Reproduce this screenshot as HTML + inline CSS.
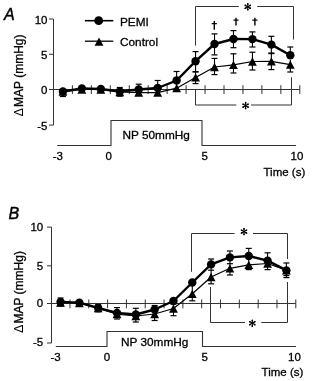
<!DOCTYPE html>
<html><head><meta charset="utf-8"><style>
html,body{margin:0;padding:0;background:#fff;width:310px;height:381px;overflow:hidden}
svg{display:block;filter:grayscale(100%)}
text{font-family:"Liberation Sans",sans-serif;fill:#000;stroke:#000;stroke-width:0.3px}
</style></head><body>
<svg width="310" height="381" viewBox="0 0 310 381">
<line x1="53.5" y1="19.00" x2="53.5" y2="125.10" stroke="#333" stroke-width="1"/>
<line x1="49.0" y1="19.00" x2="53.5" y2="19.00" stroke="#333" stroke-width="1"/>
<line x1="49.0" y1="54.30" x2="53.5" y2="54.30" stroke="#333" stroke-width="1"/>
<line x1="49.0" y1="89.50" x2="53.5" y2="89.50" stroke="#333" stroke-width="1"/>
<line x1="49.0" y1="125.10" x2="53.5" y2="125.10" stroke="#333" stroke-width="1"/>
<line x1="53.5" y1="89.5" x2="299.80" y2="89.5" stroke="#333" stroke-width="1"/>
<line x1="72.40" y1="85.20" x2="72.40" y2="94.00" stroke="#333" stroke-width="1"/>
<line x1="91.35" y1="85.20" x2="91.35" y2="94.00" stroke="#333" stroke-width="1"/>
<line x1="110.30" y1="85.20" x2="110.30" y2="94.00" stroke="#333" stroke-width="1"/>
<line x1="129.25" y1="85.20" x2="129.25" y2="94.00" stroke="#333" stroke-width="1"/>
<line x1="148.20" y1="85.20" x2="148.20" y2="94.00" stroke="#333" stroke-width="1"/>
<line x1="167.15" y1="85.20" x2="167.15" y2="94.00" stroke="#333" stroke-width="1"/>
<line x1="186.10" y1="85.20" x2="186.10" y2="94.00" stroke="#333" stroke-width="1"/>
<line x1="205.05" y1="85.20" x2="205.05" y2="94.00" stroke="#333" stroke-width="1"/>
<line x1="224.00" y1="85.20" x2="224.00" y2="94.00" stroke="#333" stroke-width="1"/>
<line x1="242.95" y1="85.20" x2="242.95" y2="94.00" stroke="#333" stroke-width="1"/>
<line x1="261.90" y1="85.20" x2="261.90" y2="94.00" stroke="#333" stroke-width="1"/>
<line x1="280.85" y1="85.20" x2="280.85" y2="94.00" stroke="#333" stroke-width="1"/>
<line x1="299.80" y1="85.20" x2="299.80" y2="94.00" stroke="#333" stroke-width="1"/>
<text x="47.5" y="23.95" font-size="11.5" text-anchor="end" >10</text>
<text x="47.5" y="58.90" font-size="11.5" text-anchor="end" >5</text>
<text x="47.5" y="94.30" font-size="11.5" text-anchor="end" >0</text>
<text x="47.5" y="129.70" font-size="11.5" text-anchor="end" >-5</text>
<polyline points="57.2,145.5 111,145.5 111,120.5 202,120.5 202,145.5 296,145.5" fill="none" stroke="#333" stroke-width="1.1"/>
<text x="122.5" y="138.6" font-size="11.8" text-anchor="start" >NP 50mmHg</text>
<text x="57.8" y="159.5" font-size="11.5" text-anchor="middle" >-3</text>
<text x="108.8" y="159.5" font-size="11.5" text-anchor="middle" >0</text>
<text x="204.6" y="159.5" font-size="11.5" text-anchor="middle" >5</text>
<text x="297" y="159.5" font-size="11.5" text-anchor="middle" >10</text>
<text x="263.5" y="176" font-size="11.5" text-anchor="start" >Time (s)</text>
<text transform="translate(23,75.4) rotate(-90)" font-size="12" text-anchor="middle"><tspan style="stroke:none">&#916;</tspan><tspan dx="-1.4"> MAP (mmHg)</tspan></text>
<text x="4" y="20.3" font-size="16" font-style="italic" style="stroke-width:0.45px">A</text>
<line x1="62.92" y1="91.50" x2="62.92" y2="96.50" stroke="#000" stroke-width="1.1"/><line x1="59.92" y1="96.50" x2="65.92" y2="96.50" stroke="#000" stroke-width="1.2"/>
<line x1="119.77" y1="87.50" x2="119.77" y2="96.20" stroke="#000" stroke-width="1.1"/><line x1="116.77" y1="87.50" x2="122.77" y2="87.50" stroke="#000" stroke-width="1.2"/><line x1="116.77" y1="96.20" x2="122.77" y2="96.20" stroke="#000" stroke-width="1.2"/>
<line x1="138.72" y1="84.20" x2="138.72" y2="95.00" stroke="#000" stroke-width="1.1"/><line x1="135.72" y1="84.20" x2="141.72" y2="84.20" stroke="#000" stroke-width="1.2"/><line x1="135.72" y1="95.00" x2="141.72" y2="95.00" stroke="#000" stroke-width="1.2"/>
<line x1="157.68" y1="80.50" x2="157.68" y2="95.00" stroke="#000" stroke-width="1.1"/><line x1="154.68" y1="80.50" x2="160.68" y2="80.50" stroke="#000" stroke-width="1.2"/><line x1="154.68" y1="95.00" x2="160.68" y2="95.00" stroke="#000" stroke-width="1.2"/>
<line x1="176.62" y1="71.50" x2="176.62" y2="90.00" stroke="#000" stroke-width="1.1"/><line x1="173.62" y1="71.50" x2="179.62" y2="71.50" stroke="#000" stroke-width="1.2"/><line x1="173.62" y1="90.00" x2="179.62" y2="90.00" stroke="#000" stroke-width="1.2"/>
<line x1="195.57" y1="51.60" x2="195.57" y2="71.60" stroke="#000" stroke-width="1.1"/><line x1="192.57" y1="51.60" x2="198.57" y2="51.60" stroke="#000" stroke-width="1.2"/><line x1="192.57" y1="71.60" x2="198.57" y2="71.60" stroke="#000" stroke-width="1.2"/>
<line x1="195.57" y1="72.00" x2="195.57" y2="83.60" stroke="#000" stroke-width="1.1"/><line x1="192.57" y1="72.00" x2="198.57" y2="72.00" stroke="#000" stroke-width="1.2"/><line x1="192.57" y1="83.60" x2="198.57" y2="83.60" stroke="#000" stroke-width="1.2"/>
<line x1="214.52" y1="33.90" x2="214.52" y2="54.90" stroke="#000" stroke-width="1.1"/><line x1="211.52" y1="33.90" x2="217.52" y2="33.90" stroke="#000" stroke-width="1.2"/><line x1="211.52" y1="54.90" x2="217.52" y2="54.90" stroke="#000" stroke-width="1.2"/>
<line x1="214.52" y1="58.40" x2="214.52" y2="74.60" stroke="#000" stroke-width="1.1"/><line x1="211.52" y1="58.40" x2="217.52" y2="58.40" stroke="#000" stroke-width="1.2"/><line x1="211.52" y1="74.60" x2="217.52" y2="74.60" stroke="#000" stroke-width="1.2"/>
<line x1="233.47" y1="30.60" x2="233.47" y2="47.70" stroke="#000" stroke-width="1.1"/><line x1="230.47" y1="30.60" x2="236.47" y2="30.60" stroke="#000" stroke-width="1.2"/><line x1="230.47" y1="47.70" x2="236.47" y2="47.70" stroke="#000" stroke-width="1.2"/>
<line x1="233.47" y1="53.80" x2="233.47" y2="73.00" stroke="#000" stroke-width="1.1"/><line x1="230.47" y1="53.80" x2="236.47" y2="53.80" stroke="#000" stroke-width="1.2"/><line x1="230.47" y1="73.00" x2="236.47" y2="73.00" stroke="#000" stroke-width="1.2"/>
<line x1="252.43" y1="31.90" x2="252.43" y2="47.00" stroke="#000" stroke-width="1.1"/><line x1="249.43" y1="31.90" x2="255.43" y2="31.90" stroke="#000" stroke-width="1.2"/><line x1="249.43" y1="47.00" x2="255.43" y2="47.00" stroke="#000" stroke-width="1.2"/>
<line x1="252.43" y1="52.20" x2="252.43" y2="70.00" stroke="#000" stroke-width="1.1"/><line x1="249.43" y1="52.20" x2="255.43" y2="52.20" stroke="#000" stroke-width="1.2"/><line x1="249.43" y1="70.00" x2="255.43" y2="70.00" stroke="#000" stroke-width="1.2"/>
<line x1="271.38" y1="36.30" x2="271.38" y2="53.00" stroke="#000" stroke-width="1.1"/><line x1="268.38" y1="36.30" x2="274.38" y2="36.30" stroke="#000" stroke-width="1.2"/><line x1="268.38" y1="53.00" x2="274.38" y2="53.00" stroke="#000" stroke-width="1.2"/>
<line x1="271.38" y1="53.60" x2="271.38" y2="69.60" stroke="#000" stroke-width="1.1"/><line x1="268.38" y1="53.60" x2="274.38" y2="53.60" stroke="#000" stroke-width="1.2"/><line x1="268.38" y1="69.60" x2="274.38" y2="69.60" stroke="#000" stroke-width="1.2"/>
<line x1="290.32" y1="47.00" x2="290.32" y2="55.00" stroke="#000" stroke-width="1.1"/><line x1="287.32" y1="47.00" x2="293.32" y2="47.00" stroke="#000" stroke-width="1.2"/>
<line x1="290.32" y1="60.00" x2="290.32" y2="72.00" stroke="#000" stroke-width="1.1"/><line x1="287.32" y1="72.00" x2="293.32" y2="72.00" stroke="#000" stroke-width="1.2"/>
<polyline points="62.92,91.50 81.88,89.50 100.83,89.50 119.77,92.00 138.72,92.70 157.68,92.70 176.62,88.20 195.57,77.40 214.52,67.00 233.47,64.80 252.43,61.50 271.38,61.30 290.32,64.60" fill="none" stroke="#000" stroke-width="1.2" stroke-linejoin="round"/>
<polyline points="62.92,91.50 81.88,88.50 100.83,89.00 119.77,91.50 138.72,89.50 157.68,88.00 176.62,80.50 195.57,61.20 214.52,44.00 233.47,39.00 252.43,39.10 271.38,44.60 290.32,55.20" fill="none" stroke="#000" stroke-width="2.4" stroke-linejoin="round"/>
<path d="M62.92 87.35 L67.33 95.65 L58.52 95.65 Z" fill="#000"/>
<path d="M81.88 85.35 L86.28 93.65 L77.47 93.65 Z" fill="#000"/>
<path d="M100.83 85.35 L105.23 93.65 L96.42 93.65 Z" fill="#000"/>
<path d="M119.77 87.85 L124.17 96.15 L115.37 96.15 Z" fill="#000"/>
<path d="M138.72 88.55 L143.12 96.85 L134.32 96.85 Z" fill="#000"/>
<path d="M157.68 88.55 L162.08 96.85 L153.28 96.85 Z" fill="#000"/>
<path d="M176.62 84.05 L181.03 92.35 L172.22 92.35 Z" fill="#000"/>
<path d="M195.57 73.25 L199.97 81.55 L191.17 81.55 Z" fill="#000"/>
<path d="M214.52 62.85 L218.92 71.15 L210.12 71.15 Z" fill="#000"/>
<path d="M233.47 60.65 L237.88 68.95 L229.07 68.95 Z" fill="#000"/>
<path d="M252.43 57.35 L256.82 65.65 L248.03 65.65 Z" fill="#000"/>
<path d="M271.38 57.15 L275.77 65.45 L266.98 65.45 Z" fill="#000"/>
<path d="M290.32 60.45 L294.72 68.75 L285.93 68.75 Z" fill="#000"/>
<circle cx="62.92" cy="91.50" r="4.2" fill="#000"/>
<circle cx="81.88" cy="88.50" r="4.2" fill="#000"/>
<circle cx="100.83" cy="89.00" r="4.2" fill="#000"/>
<circle cx="119.77" cy="91.50" r="4.2" fill="#000"/>
<circle cx="138.72" cy="89.50" r="4.2" fill="#000"/>
<circle cx="157.68" cy="88.00" r="4.2" fill="#000"/>
<circle cx="176.62" cy="80.50" r="4.2" fill="#000"/>
<circle cx="195.57" cy="61.20" r="4.2" fill="#000"/>
<circle cx="214.52" cy="44.00" r="4.2" fill="#000"/>
<circle cx="233.47" cy="39.00" r="4.2" fill="#000"/>
<circle cx="252.43" cy="39.10" r="4.2" fill="#000"/>
<circle cx="271.38" cy="44.60" r="4.2" fill="#000"/>
<circle cx="290.32" cy="55.20" r="4.2" fill="#000"/>
<polyline points="195.5,45.6 195.5,6.5 238.8,6.5" fill="none" stroke="#333" stroke-width="1"/>
<polyline points="257.2,6.5 293.5,6.5 293.5,39.5" fill="none" stroke="#333" stroke-width="1"/>
<line x1="247.80" y1="3.60" x2="247.80" y2="10.00" stroke="#000" stroke-width="1.1" stroke-linecap="round"/><line x1="245.03" y1="5.20" x2="250.57" y2="8.40" stroke="#000" stroke-width="1.1" stroke-linecap="round"/><line x1="250.57" y1="5.20" x2="245.03" y2="8.40" stroke="#000" stroke-width="1.1" stroke-linecap="round"/><circle cx="250.14" cy="8.15" r="0.85" fill="#000"/><circle cx="247.80" cy="9.50" r="0.85" fill="#000"/><circle cx="245.46" cy="8.15" r="0.85" fill="#000"/><circle cx="245.46" cy="5.45" r="0.85" fill="#000"/><circle cx="247.80" cy="4.10" r="0.85" fill="#000"/><circle cx="250.14" cy="5.45" r="0.85" fill="#000"/>
<polyline points="195.5,89.5 195.5,105 236.3,105" fill="none" stroke="#333" stroke-width="1"/>
<polyline points="251,105 291.5,105 291.5,77.3" fill="none" stroke="#333" stroke-width="1"/>
<line x1="245.60" y1="102.40" x2="245.60" y2="108.80" stroke="#000" stroke-width="1.1" stroke-linecap="round"/><line x1="242.83" y1="104.00" x2="248.37" y2="107.20" stroke="#000" stroke-width="1.1" stroke-linecap="round"/><line x1="248.37" y1="104.00" x2="242.83" y2="107.20" stroke="#000" stroke-width="1.1" stroke-linecap="round"/><circle cx="247.94" cy="106.95" r="0.85" fill="#000"/><circle cx="245.60" cy="108.30" r="0.85" fill="#000"/><circle cx="243.26" cy="106.95" r="0.85" fill="#000"/><circle cx="243.26" cy="104.25" r="0.85" fill="#000"/><circle cx="245.60" cy="102.90" r="0.85" fill="#000"/><circle cx="247.94" cy="104.25" r="0.85" fill="#000"/>
<line x1="214.30" y1="21.00" x2="214.30" y2="29.80" stroke="#000" stroke-width="1.4"/><line x1="211.70" y1="23.64" x2="216.90" y2="23.64" stroke="#000" stroke-width="1.2"/>
<line x1="236.00" y1="17.80" x2="236.00" y2="25.50" stroke="#000" stroke-width="1.4"/><line x1="233.40" y1="20.11" x2="238.60" y2="20.11" stroke="#000" stroke-width="1.2"/>
<line x1="254.90" y1="17.80" x2="254.90" y2="25.50" stroke="#000" stroke-width="1.4"/><line x1="252.30" y1="20.11" x2="257.50" y2="20.11" stroke="#000" stroke-width="1.2"/>
<line x1="84.9" y1="20.7" x2="113.3" y2="20.7" stroke="#000" stroke-width="1.6"/>
<circle cx="98.70" cy="20.70" r="4.4" fill="#000"/>
<line x1="84.9" y1="41.2" x2="113.3" y2="41.2" stroke="#000" stroke-width="1.3"/>
<path d="M99.00 37.45 L103.40 45.75 L94.60 45.75 Z" fill="#000"/>
<text x="120.0" y="25.8" font-size="11.8" text-anchor="start" >PEMI</text>
<text x="120.0" y="45.7" font-size="11.8" text-anchor="start" >Control</text>
<line x1="51.5" y1="227.10" x2="51.5" y2="343.00" stroke="#333" stroke-width="1"/>
<line x1="47.0" y1="227.10" x2="51.5" y2="227.10" stroke="#333" stroke-width="1"/>
<line x1="47.0" y1="265.80" x2="51.5" y2="265.80" stroke="#333" stroke-width="1"/>
<line x1="47.0" y1="303.50" x2="51.5" y2="303.50" stroke="#333" stroke-width="1"/>
<line x1="47.0" y1="343.00" x2="51.5" y2="343.00" stroke="#333" stroke-width="1"/>
<line x1="51.5" y1="303.5" x2="295.80" y2="303.5" stroke="#333" stroke-width="1"/>
<line x1="69.96" y1="299.50" x2="69.96" y2="308.30" stroke="#333" stroke-width="1"/>
<line x1="88.78" y1="299.50" x2="88.78" y2="308.30" stroke="#333" stroke-width="1"/>
<line x1="107.60" y1="299.50" x2="107.60" y2="308.30" stroke="#333" stroke-width="1"/>
<line x1="126.42" y1="299.50" x2="126.42" y2="308.30" stroke="#333" stroke-width="1"/>
<line x1="145.24" y1="299.50" x2="145.24" y2="308.30" stroke="#333" stroke-width="1"/>
<line x1="164.06" y1="299.50" x2="164.06" y2="308.30" stroke="#333" stroke-width="1"/>
<line x1="182.88" y1="299.50" x2="182.88" y2="308.30" stroke="#333" stroke-width="1"/>
<line x1="201.70" y1="299.50" x2="201.70" y2="308.30" stroke="#333" stroke-width="1"/>
<line x1="220.52" y1="299.50" x2="220.52" y2="308.30" stroke="#333" stroke-width="1"/>
<line x1="239.34" y1="299.50" x2="239.34" y2="308.30" stroke="#333" stroke-width="1"/>
<line x1="258.16" y1="299.50" x2="258.16" y2="308.30" stroke="#333" stroke-width="1"/>
<line x1="276.98" y1="299.50" x2="276.98" y2="308.30" stroke="#333" stroke-width="1"/>
<line x1="295.80" y1="299.50" x2="295.80" y2="308.30" stroke="#333" stroke-width="1"/>
<text x="43.2" y="230.60" font-size="11.5" text-anchor="end" >10</text>
<text x="43.2" y="270.40" font-size="11.5" text-anchor="end" >5</text>
<text x="43.2" y="306.60" font-size="11.5" text-anchor="end" >0</text>
<text x="43.2" y="346.10" font-size="11.5" text-anchor="end" >-5</text>
<polyline points="55.8,346.5 107,346.5 107,331.5 202.5,331.5 202.5,346.5 296,346.5" fill="none" stroke="#333" stroke-width="1.1"/>
<text x="121" y="345.5" font-size="11.8" text-anchor="start" >NP 30mmHg</text>
<text x="55.6" y="360.5" font-size="11.5" text-anchor="middle" >-3</text>
<text x="107" y="360.5" font-size="11.5" text-anchor="middle" >0</text>
<text x="204.6" y="360.5" font-size="11.5" text-anchor="middle" >5</text>
<text x="294.5" y="360.5" font-size="11.5" text-anchor="middle" >10</text>
<text x="261.6" y="375.6" font-size="11.5" text-anchor="start" >Time (s)</text>
<text transform="translate(23,292) rotate(-90)" font-size="12" text-anchor="middle"><tspan style="stroke:none">&#916;</tspan><tspan dx="-1.4"> MAP (mmHg)</tspan></text>
<text x="8.5" y="218.6" font-size="16" font-style="italic" style="stroke-width:0.45px">B</text>
<line x1="60.55" y1="298.00" x2="60.55" y2="306.00" stroke="#000" stroke-width="1.1"/><line x1="57.55" y1="298.00" x2="63.55" y2="298.00" stroke="#000" stroke-width="1.2"/><line x1="57.55" y1="306.00" x2="63.55" y2="306.00" stroke="#000" stroke-width="1.2"/>
<line x1="98.19" y1="304.60" x2="98.19" y2="311.80" stroke="#000" stroke-width="1.1"/><line x1="95.19" y1="304.60" x2="101.19" y2="304.60" stroke="#000" stroke-width="1.2"/><line x1="95.19" y1="311.80" x2="101.19" y2="311.80" stroke="#000" stroke-width="1.2"/>
<line x1="117.01" y1="307.60" x2="117.01" y2="319.00" stroke="#000" stroke-width="1.1"/><line x1="114.01" y1="307.60" x2="120.01" y2="307.60" stroke="#000" stroke-width="1.2"/><line x1="114.01" y1="319.00" x2="120.01" y2="319.00" stroke="#000" stroke-width="1.2"/>
<line x1="135.83" y1="308.30" x2="135.83" y2="322.00" stroke="#000" stroke-width="1.1"/><line x1="132.83" y1="308.30" x2="138.83" y2="308.30" stroke="#000" stroke-width="1.2"/><line x1="132.83" y1="322.00" x2="138.83" y2="322.00" stroke="#000" stroke-width="1.2"/>
<line x1="154.65" y1="305.50" x2="154.65" y2="320.50" stroke="#000" stroke-width="1.1"/><line x1="151.65" y1="305.50" x2="157.65" y2="305.50" stroke="#000" stroke-width="1.2"/><line x1="151.65" y1="320.50" x2="157.65" y2="320.50" stroke="#000" stroke-width="1.2"/>
<line x1="173.47" y1="304.00" x2="173.47" y2="315.70" stroke="#000" stroke-width="1.1"/><line x1="170.47" y1="304.00" x2="176.47" y2="304.00" stroke="#000" stroke-width="1.2"/><line x1="170.47" y1="315.70" x2="176.47" y2="315.70" stroke="#000" stroke-width="1.2"/>
<line x1="192.29" y1="286.00" x2="192.29" y2="300.80" stroke="#000" stroke-width="1.1"/><line x1="189.29" y1="300.80" x2="195.29" y2="300.80" stroke="#000" stroke-width="1.2"/>
<line x1="211.11" y1="259.00" x2="211.11" y2="270.20" stroke="#000" stroke-width="1.1"/><line x1="208.11" y1="259.00" x2="214.11" y2="259.00" stroke="#000" stroke-width="1.2"/><line x1="208.11" y1="270.20" x2="214.11" y2="270.20" stroke="#000" stroke-width="1.2"/>
<line x1="211.11" y1="270.20" x2="211.11" y2="283.80" stroke="#000" stroke-width="1.1"/><line x1="208.11" y1="283.80" x2="214.11" y2="283.80" stroke="#000" stroke-width="1.2"/>
<line x1="229.93" y1="251.00" x2="229.93" y2="263.70" stroke="#000" stroke-width="1.1"/><line x1="226.93" y1="251.00" x2="232.93" y2="251.00" stroke="#000" stroke-width="1.2"/><line x1="226.93" y1="263.70" x2="232.93" y2="263.70" stroke="#000" stroke-width="1.2"/>
<line x1="229.93" y1="263.70" x2="229.93" y2="275.00" stroke="#000" stroke-width="1.1"/><line x1="226.93" y1="275.00" x2="232.93" y2="275.00" stroke="#000" stroke-width="1.2"/>
<line x1="248.75" y1="248.40" x2="248.75" y2="269.60" stroke="#000" stroke-width="1.1"/><line x1="245.75" y1="248.40" x2="251.75" y2="248.40" stroke="#000" stroke-width="1.2"/><line x1="245.75" y1="269.60" x2="251.75" y2="269.60" stroke="#000" stroke-width="1.2"/>
<line x1="267.57" y1="252.80" x2="267.57" y2="269.60" stroke="#000" stroke-width="1.1"/><line x1="264.57" y1="252.80" x2="270.57" y2="252.80" stroke="#000" stroke-width="1.2"/><line x1="264.57" y1="269.60" x2="270.57" y2="269.60" stroke="#000" stroke-width="1.2"/>
<line x1="286.39" y1="263.00" x2="286.39" y2="275.60" stroke="#000" stroke-width="1.1"/><line x1="283.39" y1="263.00" x2="289.39" y2="263.00" stroke="#000" stroke-width="1.2"/><line x1="283.39" y1="275.60" x2="289.39" y2="275.60" stroke="#000" stroke-width="1.2"/>
<line x1="286.39" y1="270.00" x2="286.39" y2="277.60" stroke="#000" stroke-width="1.1"/><line x1="283.39" y1="277.60" x2="289.39" y2="277.60" stroke="#000" stroke-width="1.2"/>
<polyline points="60.55,302.50 79.37,303.00 98.19,308.00 117.01,314.20 135.83,316.00 154.65,314.00 173.47,308.50 192.29,293.80 211.11,277.00 229.93,268.30 248.75,264.80 267.57,263.50 286.39,270.30" fill="none" stroke="#000" stroke-width="1.2" stroke-linejoin="round"/>
<polyline points="60.55,302.00 79.37,302.60 98.19,308.00 117.01,313.00 135.83,314.50 154.65,309.50 173.47,301.00 192.29,282.50 211.11,264.40 229.93,257.40 248.75,256.00 267.57,260.60 286.39,270.40" fill="none" stroke="#000" stroke-width="2.4" stroke-linejoin="round"/>
<path d="M60.55 298.35 L64.95 306.65 L56.15 306.65 Z" fill="#000"/>
<path d="M79.37 298.85 L83.77 307.15 L74.97 307.15 Z" fill="#000"/>
<path d="M98.19 303.85 L102.59 312.15 L93.79 312.15 Z" fill="#000"/>
<path d="M117.01 310.05 L121.41 318.35 L112.61 318.35 Z" fill="#000"/>
<path d="M135.83 311.85 L140.23 320.15 L131.43 320.15 Z" fill="#000"/>
<path d="M154.65 309.85 L159.05 318.15 L150.25 318.15 Z" fill="#000"/>
<path d="M173.47 304.35 L177.87 312.65 L169.07 312.65 Z" fill="#000"/>
<path d="M192.29 289.65 L196.69 297.95 L187.89 297.95 Z" fill="#000"/>
<path d="M211.11 272.85 L215.51 281.15 L206.71 281.15 Z" fill="#000"/>
<path d="M229.93 264.15 L234.33 272.45 L225.53 272.45 Z" fill="#000"/>
<path d="M248.75 260.65 L253.15 268.95 L244.35 268.95 Z" fill="#000"/>
<path d="M267.57 259.35 L271.97 267.65 L263.17 267.65 Z" fill="#000"/>
<path d="M286.39 266.15 L290.79 274.45 L281.99 274.45 Z" fill="#000"/>
<circle cx="60.55" cy="302.00" r="4.2" fill="#000"/>
<circle cx="79.37" cy="302.60" r="4.2" fill="#000"/>
<circle cx="98.19" cy="308.00" r="4.2" fill="#000"/>
<circle cx="117.01" cy="313.00" r="4.2" fill="#000"/>
<circle cx="135.83" cy="314.50" r="4.2" fill="#000"/>
<circle cx="154.65" cy="309.50" r="4.2" fill="#000"/>
<circle cx="173.47" cy="301.00" r="4.2" fill="#000"/>
<circle cx="192.29" cy="282.50" r="4.2" fill="#000"/>
<circle cx="211.11" cy="264.40" r="4.2" fill="#000"/>
<circle cx="229.93" cy="257.40" r="4.2" fill="#000"/>
<circle cx="248.75" cy="256.00" r="4.2" fill="#000"/>
<circle cx="267.57" cy="260.60" r="4.2" fill="#000"/>
<circle cx="286.39" cy="270.40" r="4.2" fill="#000"/>
<polyline points="191.5,271.8 191.5,233.5 234.6,233.5" fill="none" stroke="#333" stroke-width="1"/>
<polyline points="253,233.5 287.5,233.5 287.5,259" fill="none" stroke="#333" stroke-width="1"/>
<line x1="244.00" y1="228.40" x2="244.00" y2="234.80" stroke="#000" stroke-width="1.1" stroke-linecap="round"/><line x1="241.23" y1="230.00" x2="246.77" y2="233.20" stroke="#000" stroke-width="1.1" stroke-linecap="round"/><line x1="246.77" y1="230.00" x2="241.23" y2="233.20" stroke="#000" stroke-width="1.1" stroke-linecap="round"/><circle cx="246.34" cy="232.95" r="0.85" fill="#000"/><circle cx="244.00" cy="234.30" r="0.85" fill="#000"/><circle cx="241.66" cy="232.95" r="0.85" fill="#000"/><circle cx="241.66" cy="230.25" r="0.85" fill="#000"/><circle cx="244.00" cy="228.90" r="0.85" fill="#000"/><circle cx="246.34" cy="230.25" r="0.85" fill="#000"/>
<polyline points="210.5,287 210.5,322.5 245,322.5" fill="none" stroke="#333" stroke-width="1"/>
<polyline points="261.3,322.5 287.5,322.5 287.5,282" fill="none" stroke="#333" stroke-width="1"/>
<line x1="252.30" y1="320.00" x2="252.30" y2="326.40" stroke="#000" stroke-width="1.1" stroke-linecap="round"/><line x1="249.53" y1="321.60" x2="255.07" y2="324.80" stroke="#000" stroke-width="1.1" stroke-linecap="round"/><line x1="255.07" y1="321.60" x2="249.53" y2="324.80" stroke="#000" stroke-width="1.1" stroke-linecap="round"/><circle cx="254.64" cy="324.55" r="0.85" fill="#000"/><circle cx="252.30" cy="325.90" r="0.85" fill="#000"/><circle cx="249.96" cy="324.55" r="0.85" fill="#000"/><circle cx="249.96" cy="321.85" r="0.85" fill="#000"/><circle cx="252.30" cy="320.50" r="0.85" fill="#000"/><circle cx="254.64" cy="321.85" r="0.85" fill="#000"/>
</svg>
</body></html>
